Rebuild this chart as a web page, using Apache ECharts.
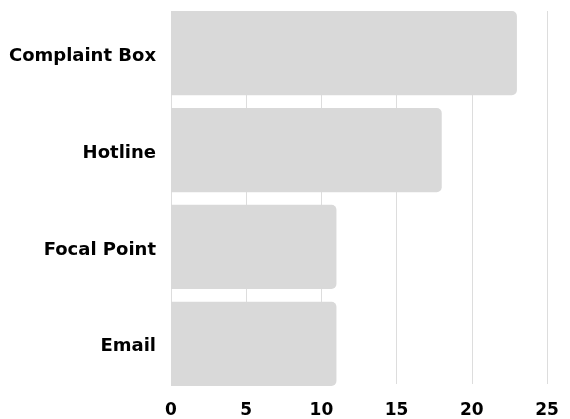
<!DOCTYPE html>
<html><head><meta charset="utf-8">
<script src="https://cdn.jsdelivr.net/npm/echarts@6/dist/echarts.min.js"></script>
<style>html,body{margin:0;padding:0;background:#fff}#c{width:570px;height:419px}</style>
</head><body><div id="c"></div>
<script>
const categories = ["Complaint Box", "Hotline", "Focal Point", "Email"];
const values = [23, 18, 11, 11];
const xTicks = [0, 5, 10, 15, 20, 25];

const chart = echarts.init(document.getElementById('c'), null, {renderer: 'canvas'});
const labelFont = {color: '#000', fontFamily: 'DejaVu Sans', fontWeight: 'bold'};
chart.setOption({
  animation: false,
  grid: [
    {left: 171, right: 23, top: 4.75, bottom: 26.75, containLabel: false},
    {left: 171, right: 23, top: 11, bottom: 33, containLabel: false}
  ],
  xAxis: [{
    gridIndex: 0, type: 'value', min: xTicks[0], max: xTicks[xTicks.length-1], interval: 5,
    axisLine: {show: false}, axisTick: {show: false}, splitLine: {show: false},
    axisLabel: {show: false}
  }, {
    gridIndex: 1, type: 'value', min: xTicks[0], max: xTicks[xTicks.length-1], interval: 5,
    axisLine: {show: false}, axisTick: {show: false},
    splitLine: {show: true, lineStyle: {color: '#dddddd', width: 1}},
    axisLabel: Object.assign({fontSize: 17, margin: 18}, labelFont)
  }],
  yAxis: [{
    gridIndex: 0, type: 'category', data: categories, inverse: true,
    axisLine: {show: false}, axisTick: {show: false},
    axisLabel: Object.assign({fontSize: 18, margin: 15, verticalAlign: 'top', lineHeight: 18, padding: [-6, 0, 0, 0]}, labelFont)
  }, {
    gridIndex: 1, type: 'category', data: categories, show: false
  }],
  series: [{
    type: 'bar', xAxisIndex: 0, yAxisIndex: 0, data: values, barCategoryGap: '13%', z: 5,
    itemStyle: {color: '#d9d9d9', borderRadius: [0, 5, 5, 0]}
  }]
});
</script></body></html>
